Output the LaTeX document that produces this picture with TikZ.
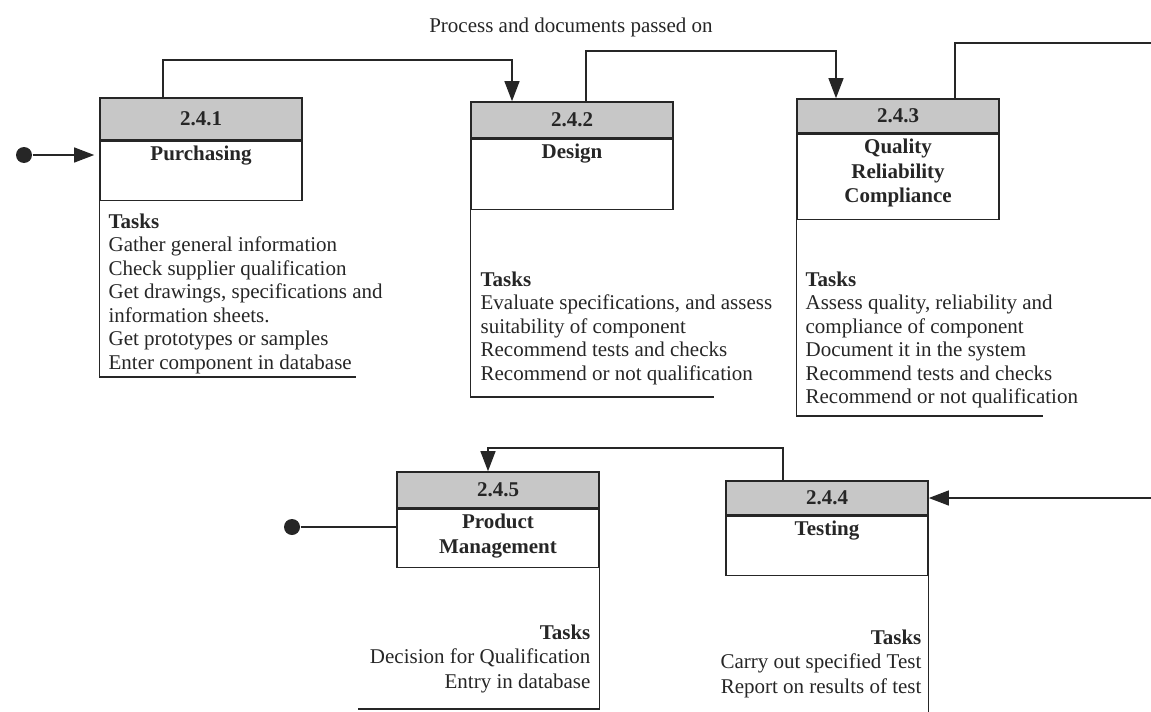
\documentclass[tikz,border=0pt]{standalone}
\usepackage{fontspec}
\setmainfont{Liberation Serif}
\usetikzlibrary{arrows.meta,positioning}
\newcommand{\chartfont}[0]{\fontsize{21}{24.5}\selectfont}
\newcommand{\upperfont}[0]{\fontsize{21}{23.5}\selectfont}

\begin{document}
\begin{tikzpicture}[x=1pt,y=-1pt,>={Triangle[length=20pt,width=15pt]},
  line width=1.2pt,color=black!85,
  head node/.style={draw,fill=black!22,line width=1.6pt,minimum width=202pt,
    inner sep=0pt,font=\chartfont\bfseries},
  body node/.style={draw,line width=1.6pt,minimum width=202pt,inner sep=0pt},
  name node/.style={font=\chartfont\bfseries,align=center,inner sep=5pt},
  task node/.style={font=\chartfont,inner sep=0pt},
  dot node/.style={circle,fill,minimum size=16pt,inner sep=0pt},
  flow/.style={->}]

  \useasboundingbox (0,0) rectangle (1151,712);

  \node[task node] (title) at (571,27)
    {Process and documents passed on};

  % boxes
  \node[head node,minimum height=42pt] (h1) at (201,119) {2.4.1};
  \node[body node,minimum height=59pt] (b1) [below=0pt of h1] {};
  \node[name node] (n1) [below=0pt of b1.north] {Purchasing};

  \node[head node,minimum height=36pt] (h2) at (572,120) {2.4.2};
  \node[body node,minimum height=70pt] (b2) [below=0pt of h2] {};
  \node[name node] (n2) [below=0pt of b2.north] {Design};

  \node[head node,minimum height=34pt] (h3) at (898,116) {2.4.3};
  \node[body node,minimum height=85pt] (b3) [below=0pt of h3] {};
  \node[name node] (n3) [below=0pt of b3.north]
    {Quality\\Reliability\\Compliance};

  \node[head node,minimum height=34pt] (h4) at (827,498) {2.4.4};
  \node[body node,minimum height=59pt] (b4) [below=0pt of h4] {};
  \node[name node] (n4) [below=0pt of b4.north] {Testing};

  \node[head node,minimum height=36pt] (h5) at (498,490) {2.4.5};
  \node[body node,minimum height=58pt] (b5) [below=0pt of h5] {};
  \node[name node] (n5) [below=0pt of b5.north] {Product\\Management};

  % tasks
  \node[task node,font=\upperfont,align=left,anchor=north west] (t1) at (108,213)
    {\textbf{Tasks}\\Gather general information\\Check supplier qualification\\
     Get drawings, specifications and\\information sheets.\\
     Get prototypes or samples\\Enter component in database};
  \node[task node,font=\upperfont,align=left,anchor=north west] (t2) at (480,271)
    {\textbf{Tasks}\\Evaluate specifications, and assess\\suitability of component\\
     Recommend tests and checks\\Recommend or not qualification};
  \node[task node,font=\upperfont,align=left,anchor=north west] (t3) at (805,271)
    {\textbf{Tasks}\\Assess quality, reliability and\\compliance of component\\
     Document it in the system\\Recommend tests and checks\\
     Recommend or not qualification};
  \node[task node,align=right,anchor=north east] (t4) at (922,629)
    {\textbf{Tasks}\\Carry out specified Test\\Report on results of test};
  \node[task node,align=right,anchor=north east] (t5) at (591,624)
    {\textbf{Tasks}\\Decision for Qualification\\Entry in database};

  \coordinate (e1) at (356,377);
  \coordinate (e2) at (714,397);
  \coordinate (e3) at (1043,416);
  \coordinate (e4) at (1000,712);
  \coordinate (e5) at (358,709);
  \draw (b1.south west) |- (e1);
  \draw (b2.south west) |- (e2);
  \draw (b3.south west) |- (e3);
  \draw (b4.south east) -- (b4.south east |- e4);
  \draw (b5.south east) |- (e5);

  % connectors
  \node[dot node] (d1) at (24,155) {};
  \node[dot node] (d5) at (292,527) {};
  \coordinate (k1) at (163,60);
  \coordinate (k2) at (512,60);
  \coordinate (k3) at (586,51);
  \coordinate (k4) at (836,51);
  \coordinate (k5) at (955,43);
  \coordinate (k6) at (783,448);
  \coordinate (k7) at (488,448);
  \coordinate (out3) at (1151,43);
  \coordinate (in4) at (1151,498);

  \draw[flow,shorten >=5pt] (d1) -- (d1 -| b1.west);
  \draw[flow] (k1 |- h1.north) -- (k1) -- (k2) -- (k2 |- h2.north);
  \draw[flow] (k3 |- h2.north) -- (k3) -- (k4) -- (k4 |- h3.north);
  \draw (k5 |- h3.north) -- (k5) -- (out3);
  \draw[flow] (in4) -- (h4.east);
  \draw[flow] (k6 |- h4.north) -- (k6) -- (k7) -- (k7 |- h5.north);
  \draw (d5) -- (d5 -| b5.west);

\end{tikzpicture}
\end{document}
